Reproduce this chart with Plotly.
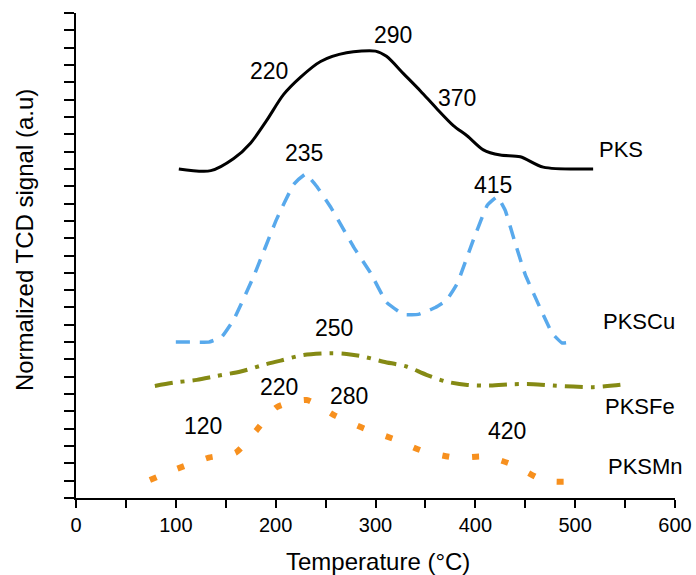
import plotly.graph_objects as go

# ---- data (temperature in °C, normalized signal in tick units) ----
pks_t = [103, 135, 158, 175, 191, 208, 225, 245, 271, 300, 311, 328, 345, 361, 378, 392, 408, 425, 445, 468, 518]
pks_v = [19.0, 18.9, 19.6, 20.5, 21.8, 23.3, 24.3, 25.2, 25.7, 25.8, 25.5, 24.5, 23.5, 22.5, 21.5, 20.9, 20.1, 19.8, 19.7, 19.1, 19.0]

cu_t = [100, 116, 133, 146, 158, 178, 201, 218, 230, 241, 255, 278, 295, 311, 328, 343, 360, 371, 382, 398, 412, 422, 430, 440, 450, 467, 477, 487, 500]
cu_v = [9.0, 9.0, 9.0, 9.3, 10.3, 12.8, 16.1, 18.1, 18.7, 18.0, 16.8, 14.5, 13.0, 11.3, 10.6, 10.6, 11.0, 11.4, 12.4, 14.9, 16.9, 17.4, 16.6, 14.7, 12.9, 10.7, 9.5, 8.95, 9.05]

fe_t = [79, 98, 121, 141, 165, 190, 205, 228, 255, 271, 288, 308, 331, 351, 371, 392, 415, 438, 458, 478, 498, 518, 538, 550]
fe_v = [6.47, 6.66, 6.82, 7.05, 7.30, 7.72, 7.93, 8.26, 8.36, 8.32, 8.16, 7.87, 7.59, 7.11, 6.72, 6.53, 6.49, 6.57, 6.57, 6.49, 6.43, 6.40, 6.49, 6.57]

mn_t = [74, 100, 133, 160, 181, 201, 231, 260, 289, 319, 347, 380, 411, 438, 469, 493]
mn_v = [1.04, 1.66, 2.33, 2.62, 3.93, 5.24, 5.66, 4.74, 4.00, 3.39, 2.72, 2.33, 2.39, 1.91, 1.00, 0.94]

peak_labels = ["290", "220", "370", "235", "415", "250", "220", "280", "120", "420"]
peak_t = [318, 193, 382, 228, 418, 258, 203, 273, 127, 432]
peak_v = [26.75, 24.63, 23.09, 19.91, 18.08, 9.8, 6.43, 5.89, 4.18, 3.89]

series_names = ["PKS", "PKSCu", "PKSFe", "PKSMn"]
series_label_t = [522, 526, 528, 531]
series_label_v = [20.1, 10.2, 5.27, 1.79]

x_tickvals = list(range(0, 601, 50))
x_ticktext = [str(v) if v % 100 == 0 else "" for v in x_tickvals]

FONT = "Liberation Sans, Arial, sans-serif"

fig = go.Figure()
fig.add_trace(go.Scatter(x=pks_t, y=pks_v, mode="lines", name="PKS",
                         line=dict(color="#000000", width=3, shape="spline", smoothing=0.8)))
fig.add_trace(go.Scatter(x=cu_t, y=cu_v, mode="lines", name="PKSCu",
                         line=dict(color="#58A9EC", width=3.5, dash="14px,10px", shape="spline", smoothing=0.3)))
fig.add_trace(go.Scatter(x=fe_t, y=fe_v, mode="lines", name="PKSFe",
                         line=dict(color="#858A14", width=4, dash="18px,8px,4px,8px", shape="spline", smoothing=0.8)))
fig.add_trace(go.Scatter(x=mn_t, y=mn_v, mode="lines", name="PKSMn",
                         line=dict(color="#F7901E", width=6, dash="7px,23px", shape="spline", smoothing=0.6)))

for txt, t, v in zip(peak_labels, peak_t, peak_v):
    fig.add_annotation(x=t, y=v, text=txt, showarrow=False,
                       font=dict(size=23, color="#000000", family=FONT),
                       xanchor="center", yanchor="middle")

for txt, t, v in zip(series_names, series_label_t, series_label_v):
    fig.add_annotation(x=t, y=v, text=txt, showarrow=False,
                       font=dict(size=22, color="#000000", family=FONT),
                       xanchor="left", yanchor="middle")

fig.add_annotation(xref="paper", yref="paper", x=0.504, y=-0.131, text="Temperature (°C)",
                   showarrow=False, font=dict(size=24, color="#000000", family=FONT),
                   xanchor="center", yanchor="middle")
fig.add_annotation(xref="paper", yref="paper", x=-0.085, y=0.532, text="Normalized TCD signal (a.u)",
                   showarrow=False, textangle=-90, font=dict(size=24, color="#000000", family=FONT),
                   xanchor="center", yanchor="middle")

fig.update_layout(
    width=696, height=575,
    margin=dict(l=76, r=21, t=13, b=77, autoexpand=False),
    paper_bgcolor="white", plot_bgcolor="white",
    showlegend=False,
    font=dict(family=FONT, color="#000000"),
)
fig.update_xaxes(range=[0, 600], tickvals=x_tickvals, ticktext=x_ticktext,
                 ticks="outside", ticklen=8, tickwidth=2, tickcolor="black",
                 showline=True, linewidth=2, linecolor="black", automargin=False,
                 showgrid=False, zeroline=False, tickfont=dict(size=20, family=FONT))
fig.update_yaxes(range=[0, 28], dtick=1, tick0=0, showticklabels=False,
                 ticks="outside", ticklen=10, tickwidth=2, tickcolor="black",
                 showline=True, linewidth=2, linecolor="black", automargin=False,
                 showgrid=False, zeroline=False)

fig.write_html("out.html")
